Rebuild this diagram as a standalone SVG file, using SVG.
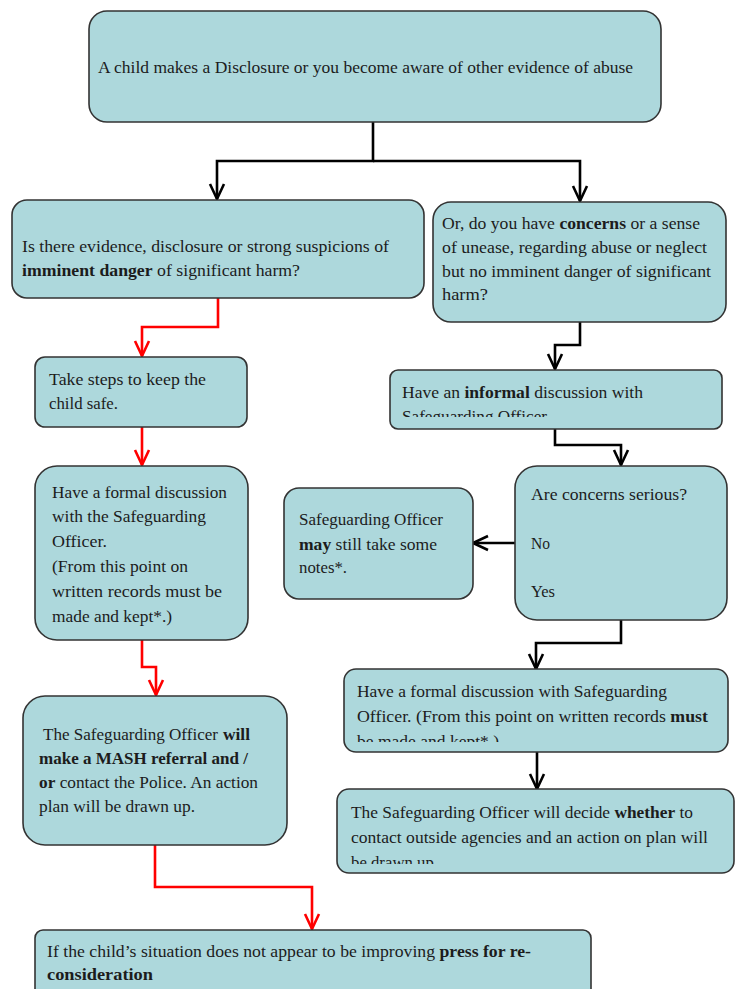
<svg xmlns="http://www.w3.org/2000/svg" width="739" height="989" viewBox="0 0 739 989">
<style>
.box{fill:#ADD8DC;stroke:#333;stroke-width:1.6}
.t{font-family:"Liberation Serif",serif;font-size:17.5px;fill:#1c1c1c}
.b{font-weight:bold}
.blk{fill:none;stroke:#000;stroke-width:2.6;stroke-linejoin:miter}
.red{fill:none;stroke:#FF0000;stroke-width:2.6;stroke-linejoin:miter}
</style>
<defs>
<marker id="ak" markerUnits="userSpaceOnUse" markerWidth="22" markerHeight="20" refX="17" refY="9" orient="auto" viewBox="0 0 22 20">
<path d="M2,2 L17,9 L2,16" fill="none" stroke="#000" stroke-width="2.6"/>
</marker>
<marker id="ar" markerUnits="userSpaceOnUse" markerWidth="22" markerHeight="20" refX="17" refY="9" orient="auto" viewBox="0 0 22 20">
<path d="M2,2 L17,9 L2,16" fill="none" stroke="#FF0000" stroke-width="2.6"/>
</marker>
<clipPath id="cInf"><rect x="390" y="370" width="332" height="47"/></clipPath>
<clipPath id="cFR"><rect x="344" y="669" width="384" height="73"/></clipPath>
<clipPath id="cLast"><rect x="337" y="789" width="397" height="75"/></clipPath>
</defs>

<g id="connectors">
<path class="blk" d="M373,122 V161 H217 V199" marker-end="url(#ak)"/>
<path class="blk" d="M373,161 H580 V201" marker-end="url(#ak)"/>
<path class="red" d="M218,298 V327 H142 V356" marker-end="url(#ar)"/>
<path class="red" d="M142,427 V465" marker-end="url(#ar)"/>
<path class="red" d="M142,640 V667 H156 V695" marker-end="url(#ar)"/>
<path class="red" d="M155,845 V887 H312 V929" marker-end="url(#ar)"/>
<path class="blk" d="M580,322 V345 H555 V369" marker-end="url(#ak)"/>
<path class="blk" d="M555,429 V445 H621 V465" marker-end="url(#ak)"/>
<path class="blk" d="M515,543 H473" marker-end="url(#ak)"/>
<path class="blk" d="M621,620 V643 H536 V669" marker-end="url(#ak)"/>
<path class="blk" d="M537,752 V789" marker-end="url(#ak)"/>
</g>

<g id="n-start">
<rect class="box" x="89" y="11" width="572" height="111" rx="18"/>
<text class="t" x="98" y="73" textLength="535" lengthAdjust="spacingAndGlyphs">A child makes a Disclosure or you become aware of other evidence of abuse</text>
</g>

<g id="n-imminent">
<rect class="box" x="12" y="200" width="412" height="98" rx="15"/>
<text class="t" x="22" y="252" textLength="367" lengthAdjust="spacingAndGlyphs">Is there evidence, disclosure or strong suspicions of</text>
<text class="t" x="22" y="276" textLength="278" lengthAdjust="spacingAndGlyphs"><tspan class="b">imminent danger</tspan> of significant harm?</text>
</g>

<g id="n-concerns">
<rect class="box" x="433" y="202" width="293" height="120" rx="18"/>
<text class="t" x="442" y="229" textLength="258" lengthAdjust="spacingAndGlyphs">Or, do you have <tspan class="b">concerns</tspan> or a sense</text>
<text class="t" x="442" y="253" textLength="265" lengthAdjust="spacingAndGlyphs">of unease, regarding abuse or neglect</text>
<text class="t" x="442" y="277" textLength="269" lengthAdjust="spacingAndGlyphs">but no imminent danger of significant</text>
<text class="t" x="442" y="300" textLength="46" lengthAdjust="spacingAndGlyphs">harm?</text>
</g>

<g id="n-safe">
<rect class="box" x="35" y="357" width="212" height="70" rx="10"/>
<text class="t" x="49" y="385" textLength="157" lengthAdjust="spacingAndGlyphs">Take steps to keep the</text>
<text class="t" x="49" y="409" textLength="69" lengthAdjust="spacingAndGlyphs">child safe.</text>
</g>

<g id="n-formal-left">
<rect class="box" x="35" y="466" width="213" height="174" rx="22"/>
<text class="t" x="52" y="498" textLength="175" lengthAdjust="spacingAndGlyphs">Have a formal discussion</text>
<text class="t" x="52" y="522" textLength="154" lengthAdjust="spacingAndGlyphs">with the Safeguarding</text>
<text class="t" x="52" y="547" textLength="55" lengthAdjust="spacingAndGlyphs">Officer.</text>
<text class="t" x="52" y="572" textLength="136" lengthAdjust="spacingAndGlyphs">(From this point on</text>
<text class="t" x="52" y="597" textLength="170" lengthAdjust="spacingAndGlyphs">written records must be</text>
<text class="t" x="52" y="622" textLength="120" lengthAdjust="spacingAndGlyphs">made and kept*.)</text>
</g>

<g id="n-mash">
<rect class="box" x="23" y="696" width="264" height="149" rx="22"/>
<text class="t" x="43" y="740" textLength="175" lengthAdjust="spacingAndGlyphs">The Safeguarding Officer</text>
<text class="t b" x="223" y="740" textLength="27" lengthAdjust="spacingAndGlyphs">will</text>
<text class="t b" x="39" y="764" textLength="209" lengthAdjust="spacingAndGlyphs">make a MASH referral and /</text>
<text class="t" x="39" y="788" textLength="219" lengthAdjust="spacingAndGlyphs"><tspan class="b">or</tspan> contact the Police. An action</text>
<text class="t" x="39" y="812" textLength="156" lengthAdjust="spacingAndGlyphs">plan will be drawn up.</text>
</g>

<g id="n-informal">
<rect class="box" x="390" y="370" width="332" height="59" rx="8"/>
<g clip-path="url(#cInf)">
<text class="t" x="402" y="398" textLength="241" lengthAdjust="spacingAndGlyphs">Have an <tspan class="b">informal</tspan> discussion with</text>
<text class="t" x="402" y="422" textLength="145" lengthAdjust="spacingAndGlyphs">Safeguarding Officer</text>
</g>
</g>

<g id="n-serious">
<rect class="box" x="515" y="466" width="212" height="154" rx="22"/>
<text class="t" x="531" y="500" textLength="156" lengthAdjust="spacingAndGlyphs">Are concerns serious?</text>
<text class="t" x="531" y="549" textLength="19" lengthAdjust="spacingAndGlyphs">No</text>
<text class="t" x="531" y="597" textLength="24" lengthAdjust="spacingAndGlyphs">Yes</text>
</g>

<g id="n-may">
<rect class="box" x="284" y="488" width="189" height="111" rx="15"/>
<text class="t" x="299" y="525" textLength="144" lengthAdjust="spacingAndGlyphs">Safeguarding Officer</text>
<text class="t" x="299" y="550" textLength="138" lengthAdjust="spacingAndGlyphs"><tspan class="b">may</tspan> still take some</text>
<text class="t" x="299" y="573" textLength="48" lengthAdjust="spacingAndGlyphs">notes*.</text>
</g>

<g id="n-formal-right">
<rect class="box" x="344" y="669" width="384" height="83" rx="12"/>
<g clip-path="url(#cFR)">
<text class="t" x="357" y="697" textLength="310" lengthAdjust="spacingAndGlyphs">Have a formal discussion with Safeguarding</text>
<text class="t" x="357" y="722" textLength="351" lengthAdjust="spacingAndGlyphs">Officer. (From this point on written records <tspan class="b">must</tspan></text>
<text class="t" x="357" y="747" textLength="142" lengthAdjust="spacingAndGlyphs">be made and kept*.)</text>
</g>
</g>

<g id="n-decide">
<rect class="box" x="337" y="789" width="397" height="84" rx="12"/>
<g clip-path="url(#cLast)">
<text class="t" x="351" y="818" textLength="342" lengthAdjust="spacingAndGlyphs">The Safeguarding Officer will decide <tspan class="b">whether</tspan> to</text>
<text class="t" x="351" y="843" textLength="357" lengthAdjust="spacingAndGlyphs">contact outside agencies and an action on plan will</text>
<text class="t" x="351" y="868" textLength="87" lengthAdjust="spacingAndGlyphs">be drawn up.</text>
</g>
</g>

<g id="n-press">
<rect class="box" x="35" y="930" width="556" height="80" rx="8"/>
<text class="t" x="47" y="957" textLength="484" lengthAdjust="spacingAndGlyphs">If the child’s situation does not appear to be improving <tspan class="b">press for re-</tspan></text>
<text class="t b" x="47" y="980" textLength="106" lengthAdjust="spacingAndGlyphs">consideration</text>
</g>
</svg>
